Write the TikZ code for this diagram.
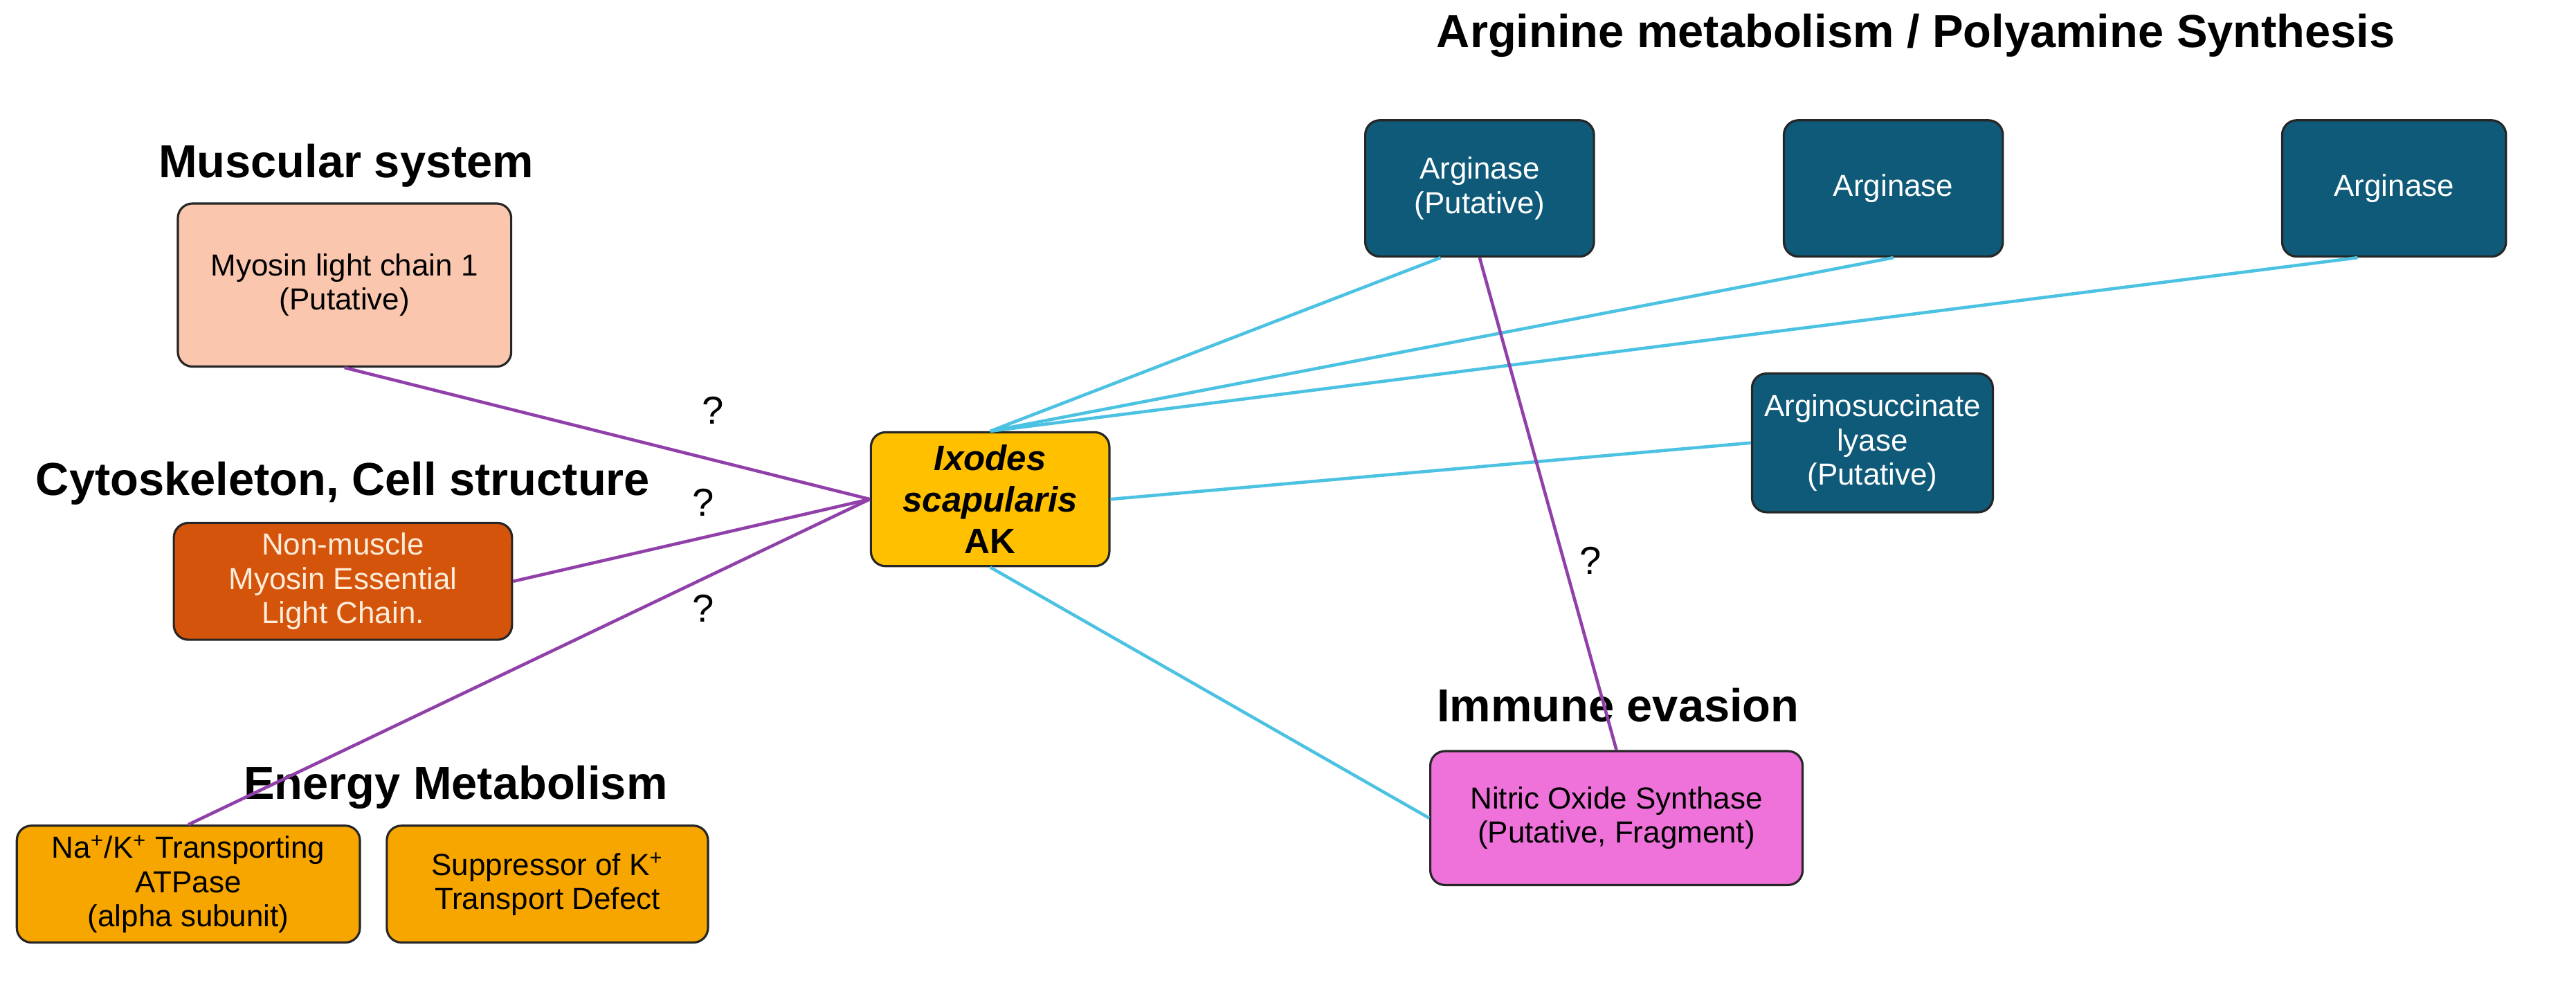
\documentclass[tikz,border=0pt]{standalone}
\usepackage{fontspec}
\setmainfont{Liberation Sans}
\begin{document}
\begin{tikzpicture}[x=0.02326cm,y=-0.02326cm,
  box/.style={draw=black!85,line width=0.9pt,rounded corners=6pt,align=center,font=\fontsize{12.5}{14}\selectfont,inner sep=1pt},
  ttl/.style={font=\bfseries\fontsize{19}{22}\selectfont},
  q/.style={font=\fontsize{16}{18}\selectfont}]
\useasboundingbox[fill=white] (0,0) rectangle (1600,610);
\definecolor{peach}{HTML}{FBC6AE}
\definecolor{rust}{HTML}{D4540C}
\definecolor{orng}{HTML}{F7A600}
\definecolor{gold}{HTML}{FFC000}
\definecolor{teal}{HTML}{0F5A79}
\definecolor{pink}{HTML}{EE72DA}
\definecolor{purp}{HTML}{9040A8}
\definecolor{lcyan}{HTML}{4CC2E2}
\tikzset{pl/.style={draw=purp,line width=1.3pt},cy/.style={draw=lcyan,line width=1.3pt}}
% nodes
\node[box,fill=peach,minimum width=137pt,minimum height=67pt] (myo) at (214,177) {Myosin light chain 1\\(Putative)};
\node[box,fill=rust,text=white!85!orange,minimum width=139pt,minimum height=48pt] (nm) at (213,361) {Non-muscle\\Myosin Essential\\Light Chain.};
\node[box,fill=orng,minimum width=141pt,minimum height=48pt] (nak) at (117,549) {Na\textsuperscript{+}/K\textsuperscript{+} Transporting\\ATPase\\(alpha subunit)};
\node[box,fill=orng,minimum width=132pt,minimum height=48pt] (sup) at (340,549) {Suppressor of K\textsuperscript{+}\\Transport Defect};
\node[box,fill=gold,minimum width=98pt,minimum height=55pt,font=\bfseries\fontsize{14.5}{17}\selectfont] (ak) at (615,310) {\textit{Ixodes}\\\textit{scapularis}\\AK};
\node[box,fill=teal,text=white,minimum width=94pt,minimum height=56pt] (a1) at (919,117) {Arginase\\(Putative)};
\node[box,fill=teal,text=white,minimum width=90pt,minimum height=56pt] (a2) at (1176,117) {Arginase};
\node[box,fill=teal,text=white,minimum width=92pt,minimum height=56pt] (a3) at (1487,117) {Arginase};
\node[box,fill=teal,text=white,minimum width=99pt,minimum height=57pt] (asl) at (1163,275) {Arginosuccinate\\lyase\\(Putative)};
\node[box,fill=pink,minimum width=153pt,minimum height=55pt] (nos) at (1004,508) {Nitric Oxide Synthase\\(Putative, Fragment)};
% titles
\node[ttl] (t1) at (215,103) {Muscular system};
\node[ttl] (t2) at (213,300) {Cytoskeleton, Cell structure};
\node[ttl] (t3) at (283,489) {Energy Metabolism};
\node[ttl] (t4) at (1190,22) {Arginine metabolism / Polyamine Synthesis};
\node[ttl] (t5) at (1005,438) {Immune evasion};
% connectors
\draw[pl] (myo.south) -- (ak.west);
\draw[pl] (nm.east) -- (ak.west);
\draw[pl] (nak.north) -- (ak.west);
\draw[cy] (ak.north) -- ([xshift=-16pt]a1.south);
\draw[cy] (ak.north) -- (a2.south);
\draw[cy] (ak.north) -- ([xshift=-15pt]a3.south);
\draw[cy] (ak.east) -- (asl.west);
\draw[cy] (ak.south) -- (nos.west);
\draw[pl] (a1.south) -- (nos.north);
% question marks
\node[q] (q1) at (443,255) {?};
\node[q] (q2) at (437,312) {?};
\node[q] (q3) at (437,378) {?};
\node[q] (q4) at (988,348) {?};
\end{tikzpicture}
\end{document}
